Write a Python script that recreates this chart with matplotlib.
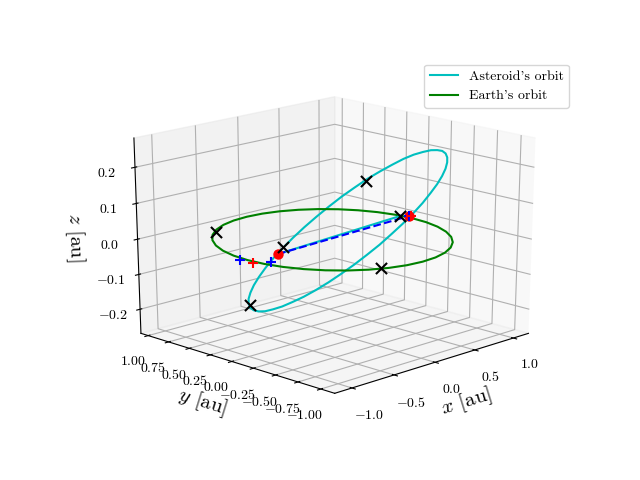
import numpy as np
import matplotlib
matplotlib.use('Agg')
import matplotlib.pyplot as plt

plt.rcParams['font.family'] = 'serif'
plt.rcParams['font.serif'] = ['cmr10']
plt.rcParams['mathtext.fontset'] = 'cm'
plt.rcParams['axes.formatter.use_mathtext'] = True
plt.rcParams['axes.unicode_minus'] = False

earth_x = [1.0, 0.985, 0.94, 0.866, 0.766, 0.643, 0.5, 0.342, 0.174, 0.0, -0.174, -0.342, -0.5, -0.643, -0.766, -0.866, -0.94, -0.985,
           -1.0, -0.985, -0.94, -0.866, -0.766, -0.643, -0.5, -0.342, -0.174, 0.0, 0.174, 0.342, 0.5, 0.643, 0.766, 0.866, 0.94, 0.985, 1.0]
earth_y = [0.0, 0.174, 0.342, 0.5, 0.643, 0.766, 0.866, 0.94, 0.985, 1.0, 0.985, 0.94, 0.866, 0.766, 0.643, 0.5, 0.342, 0.174,
           0.0, -0.174, -0.342, -0.5, -0.643, -0.766, -0.866, -0.94, -0.985, -1.0, -0.985, -0.94, -0.866, -0.766, -0.643, -0.5, -0.342, -0.174, 0.0]
earth_z = [0.0] * 37

asteroid_x = [-0.993, -0.933, -0.855, -0.76, -0.65, -0.526, -0.391, -0.246, -0.094, 0.063, 0.221, 0.378, 0.532, 0.678, 0.815, 0.94, 1.05,
              1.143, 1.218, 1.273, 1.307, 1.32, 1.311, 1.281, 1.231, 1.161, 1.073, 0.97, 0.851, 0.721, 0.582, 0.435, 0.283, 0.13, -0.023,
              -0.173, -0.317, -0.454, -0.581, -0.697, -0.799, -0.886, -0.956, -1.01, -1.045, -1.061, -1.058, -1.035, -0.993]
asteroid_y = [-0.017, 0.005, 0.026, 0.044, 0.061, 0.075, 0.087, 0.096, 0.101, 0.103, 0.102, 0.098, 0.09, 0.079, 0.065, 0.048, 0.028,
              0.007, -0.016, -0.041, -0.066, -0.092, -0.117, -0.142, -0.166, -0.188, -0.209, -0.227, -0.243, -0.256, -0.266, -0.273, -0.277, -0.278, -0.275,
              -0.27, -0.261, -0.25, -0.236, -0.22, -0.201, -0.181, -0.159, -0.137, -0.113, -0.089, -0.064, -0.04, -0.017]
asteroid_z = [-0.131, -0.144, -0.154, -0.161, -0.164, -0.165, -0.162, -0.157, -0.148, -0.136, -0.121, -0.104, -0.084, -0.063, -0.039, -0.015, 0.01,
              0.035, 0.061, 0.085, 0.108, 0.13, 0.15, 0.167, 0.182, 0.194, 0.202, 0.208, 0.21, 0.21, 0.206, 0.198, 0.188, 0.176, 0.16,
              0.143, 0.123, 0.102, 0.08, 0.057, 0.033, 0.01, -0.014, -0.037, -0.059, -0.08, -0.099, -0.116, -0.131]

# black crosses
cross_x = [-0.798, -1.01, 0.116, -0.557, 0.981, -0.389]
cross_y = [-0.206, -0.031, -0.272, 0.812, 0.119, -0.899]
cross_z = [0.037, -0.122, 0.17, 0.0, 0.0, 0.0]

# red dots
dot_x = [-0.839, 1.037]
dot_y = [-0.188, 0.066]
dot_z = [0.019, 0.0]

# plus markers
blue_plus_x = [-1.043, -0.903, 1.037]
blue_plus_y = [0.043, -0.171, 0.066]
blue_plus_z = [0.0, 0.0, 0.0]
red_plus_x = [-1.031, 1.05]
red_plus_y = [-0.093, 0.055]
red_plus_z = [0.0, 0.0]

# connecting lines
cyan_link_x = [-0.839, 0.981]
cyan_link_y = [-0.188, 0.119]
cyan_link_z = [0.019, 0.0]
blue_link_x = [-0.839, 1.037]
blue_link_y = [-0.188, 0.066]
blue_link_z = [0.019, 0.0]

z_ticks = [-0.2, -0.1, 0.0, 0.1, 0.2]
y_ticks = [-1.0, -0.75, -0.5, -0.25, 0.0, 0.25, 0.5, 0.75, 1.0]

fig = plt.figure(figsize=(6.4, 4.8))
ax = fig.add_subplot(projection='3d')
# let the 3d box stretch over the whole axes rectangle
ax.apply_aspect = lambda position=None: None
ax.set_box_aspect((1, 1, 1), zoom=1.04 / 1.1)
ax.view_init(elev=20, azim=-135)

ax.plot(asteroid_x, asteroid_y, asteroid_z, 'c', label="Asteroid's orbit")
ax.plot(earth_x, earth_y, earth_z, 'g', label="Earth's orbit")
ax.plot(cyan_link_x, cyan_link_y, cyan_link_z, 'c')
ax.plot(blue_link_x, blue_link_y, blue_link_z, 'b--')
ax.scatter(dot_x, dot_y, dot_z, c='r', s=42, depthshade=False)
ax.scatter(blue_plus_x, blue_plus_y, blue_plus_z, c='b', marker='+', s=60, linewidths=1.5, depthshade=False)
ax.scatter(red_plus_x, red_plus_y, red_plus_z, c='r', marker='+', s=60, linewidths=1.5, depthshade=False)
ax.scatter(cross_x, cross_y, cross_z, c='k', marker='x', s=64, linewidths=1.5, depthshade=False)

ax.set_xlim(-1.2, 1.2)
ax.set_ylim(-1.15, 1.09)
ax.set_zlim(-0.27, 0.28)
ax.set_zticks(z_ticks)
ax.set_yticks(y_ticks)
ax.set_xlabel(r'$x$ [au]', fontsize=15)
ax.set_ylabel(r'$y$ [au]', fontsize=15)
ax.set_zlabel(r'$z$ [au]', fontsize=15, labelpad=5)
ax.tick_params(axis='z', pad=3.5)
ax.tick_params(axis='x', pad=5)
ax.tick_params(axis='y', pad=4.5)
ax.legend()
fig.savefig('out.png', dpi=100)
